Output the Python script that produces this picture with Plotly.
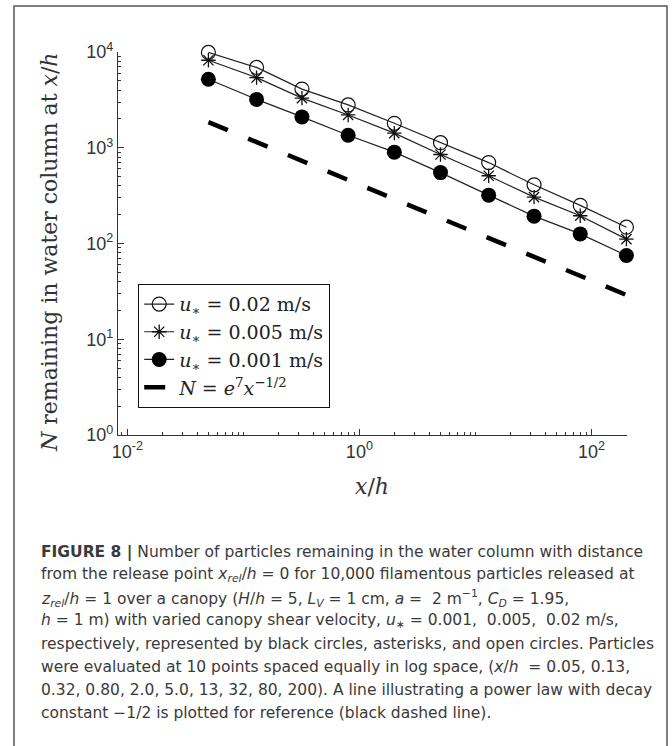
import plotly.graph_objects as go

# ---- data ----
x_h = [0.05, 0.13, 0.32, 0.80, 2.0, 5.0, 13, 32, 80, 200]
n_u002 = [9900, 6900, 4100, 2800, 1800, 1130, 700, 410, 250, 148]   # open circles
n_u0005 = [8200, 5400, 3300, 2200, 1420, 850, 510, 305, 195, 111]   # asterisks
n_u0001 = [5200, 3200, 2100, 1350, 900, 550, 320, 193, 126, 75]     # filled circles
ref_x = [0.05, 200]
ref_n = [1850, 29]

ytick_vals = [1, 10, 100, 1000, 10000]
ytick_text = ["10<sup>0</sup>", "10<sup>1</sup>", "10<sup>2</sup>", "10<sup>3</sup>", "10<sup>4</sup>"]
xtick_vals = [0.01, 1, 100]
xtick_text = ["10<sup>-2</sup>", "10<sup>0</sup>", "10<sup>2</sup>"]

caption_lines = [
    "<b>FIGURE 8 |</b> Number of particles remaining in the water column with distance",
    "from the release point <i>x<sub>rel</sub></i>/<i>h</i> = 0 for 10,000 filamentous particles released at",
    "<i>z<sub>rel</sub></i>/<i>h</i> = 1 over a canopy (<i>H</i>/<i>h</i> = 5, <i>L<sub>V</sub></i> = 1 cm, <i>a</i> =  2 m<sup>\u22121</sup>, <i>C<sub>D</sub></i> = 1.95,",
    "<i>h</i> = 1 m) with varied canopy shear velocity, <i>u</i><sub>\u2217</sub> = 0.001,  0.005,  0.02 m/s,",
    "respectively, represented by black circles, asterisks, and open circles. Particles",
    "were evaluated at 10 points spaced equally in log space, (<i>x</i>/<i>h</i>  = 0.05, 0.13,",
    "0.32, 0.80, 2.0, 5.0, 13, 32, 80, 200). A line illustrating a power law with decay",
    "constant \u22121/2 is plotted for reference (black dashed line).",
]

W, H = 672, 746
L, R, T, B = 118, 45, 52, 311
PW, PH = W - L - R, H - T - B


def px(xp):
    return (xp - L) / PW


def py(yp):
    return (H - B - yp) / PH


SERIF = "DejaVu Serif"
SANS = "DejaVu Sans"
LC = "#222222"

fig = go.Figure()
fig.add_trace(go.Scatter(
    x=x_h, y=n_u002, mode="lines+markers", name="<i>u</i><sub>\u2217</sub> = 0.02 m/s",
    line=dict(color=LC, width=1.2),
    marker=dict(symbol="circle-open", size=14, color="#111", line=dict(width=1.2)),
    cliponaxis=False))
fig.add_trace(go.Scatter(
    x=x_h, y=n_u0005, mode="lines+markers", name="<i>u</i><sub>\u2217</sub> = 0.005 m/s",
    line=dict(color=LC, width=1.2),
    marker=dict(symbol="asterisk-open", size=12, color="#111", line=dict(width=1.3, color="#111")),
    cliponaxis=False))
fig.add_trace(go.Scatter(
    x=x_h, y=n_u0001, mode="lines+markers", name="<i>u</i><sub>\u2217</sub> = 0.001 m/s",
    line=dict(color=LC, width=1.2),
    marker=dict(symbol="circle", size=15, color="#000"),
    cliponaxis=False))
fig.add_trace(go.Scatter(
    x=ref_x, y=ref_n, mode="lines", name="<i>N</i> = <i>e</i><sup>7</sup><i>x</i><sup>\u22121/2</sup>",
    line=dict(color="#000", width=4.5, dash="21px,22px"),
    cliponaxis=False))

axis_common = dict(
    type="log", showgrid=False, zeroline=False, showline=True,
    linecolor="#333", linewidth=1.3, ticks="inside", ticklen=6, tickwidth=1.1,
    tickcolor="#333", mirror=False,
    tickfont=dict(family="Liberation Sans", size=18, color="#333"),
    minor=dict(ticks="inside", ticklen=3, tickwidth=1, tickcolor="#333", dtick="D1", showgrid=False),
)

fig.update_xaxes(range=[-2.08, 2.306], tickmode="array", tickvals=xtick_vals, ticktext=xtick_text,
                 **axis_common)
fig.update_yaxes(range=[0, 4], tickmode="array", tickvals=ytick_vals, ticktext=ytick_text,
                 **axis_common)

annotations = [
    dict(text="<i>N</i> remaining in water column at <i>x</i>/<i>h</i>", textangle=-90,
         x=px(50), y=py(252), xref="paper", yref="paper", showarrow=False,
         font=dict(family=SERIF, size=22, color="#333"), xanchor="center", yanchor="middle"),
    dict(text="<i>x</i>/<i>h</i>", x=px(372), y=py(486), xref="paper", yref="paper",
         showarrow=False, font=dict(family=SERIF, size=22, color="#333"),
         xanchor="center", yanchor="middle"),
]
for i, line in enumerate(caption_lines):
    annotations.append(dict(
        text=line, x=px(39), y=py(552 + 23 * i), xref="paper", yref="paper",
        showarrow=False, xanchor="left", yanchor="middle", align="left",
        font=dict(family=SANS, size=15.5, color="#3a3a3a")))

fig.update_layout(
    width=W, height=H, margin=dict(l=L, r=R, t=T, b=B),
    paper_bgcolor="white", plot_bgcolor="white",
    showlegend=True,
    legend=dict(x=px(138), y=py(284), xanchor="left", yanchor="top",
                bgcolor="white", bordercolor="#111", borderwidth=1.2,
                font=dict(family=SERIF, size=19, color="#222"),
                itemwidth=30, tracegroupgap=0),
    annotations=annotations,
    shapes=[dict(type="rect", xref="paper", yref="paper",
                 x0=px(14), x1=px(667), y0=py(760), y1=py(6),
                 line=dict(color="#555", width=1.5))],
)

fig.write_html("out.html")
